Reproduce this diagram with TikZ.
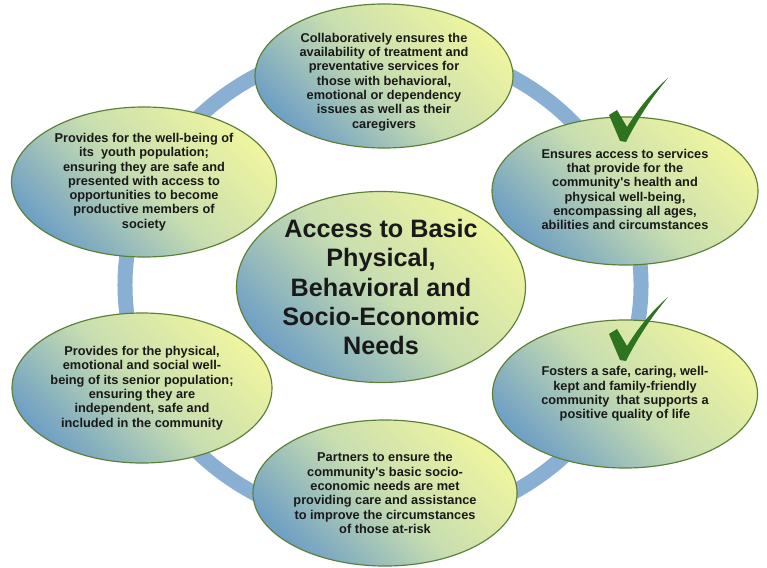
\documentclass[tikz,border=0pt]{standalone}
\usepackage{fontspec}
\setmainfont{Liberation Sans}
\usetikzlibrary{shapes.geometric}

\definecolor{ringblue}{RGB}{137,176,210}
\definecolor{bubbleblue}{RGB}{112,160,196}
\definecolor{bubblemid}{RGB}{200,222,176}
\definecolor{bubbleyellow}{RGB}{238,244,160}
\definecolor{bubbleedge}{RGB}{92,128,56}
\definecolor{tickgreen}{RGB}{46,116,32}

\begin{document}
\begin{tikzpicture}
  [x=0.03cm,y=-0.03cm,
   ring/.style={draw=ringblue,line width=0.45cm},
   bubble/.style={draw=bubbleedge,line width=1pt,ellipse,inner sep=0pt,left color=bubbleblue,right color=bubbleyellow,middle color=bubblemid,shading angle=135},
   bubbletext/.style={align=center,inner sep=0pt,text=black!90,font=\bfseries\fontsize{10.9}{12.2}\selectfont},
   titletext/.style={align=center,inner sep=0pt,text=black!90,font=\bfseries\fontsize{21.5}{25}\selectfont}]
  \path [use as bounding box] (0,0) rectangle (767,567);
  % the ring behind everything
  \draw [ring] (383,285) ellipse [x radius=7.74cm,y radius=7.2cm];
  % bubbles
  \node (care) at (384,76) [bubble,minimum width=7.74cm,minimum height=4.32cm] {};
  \node (health) at (625,191) [bubble,minimum width=7.98cm,minimum height=4.44cm] {};
  \node (safe) at (625,394) [bubble,minimum width=7.95cm,minimum height=4.44cm] {};
  \node (socio) at (385,493) [bubble,minimum width=7.92cm,minimum height=4.38cm] {};
  \node (senior) at (142,388) [bubble,minimum width=7.8cm,minimum height=4.5cm] {};
  \node (youth) at (144,182) [bubble,minimum width=7.95cm,minimum height=4.5cm] {};
  \node (needs) at (381,287) [bubble,minimum width=8.67cm,minimum height=5.73cm] {};
  % texts
  \node (caretext) at (care) [bubbletext,yshift=-0.18cm] {Collaboratively ensures the\\availability of treatment and\\preventative services for\\those with behavioral,\\emotional or dependency\\issues as well as their\\caregivers};
  \node (healthtext) at (health) [bubbletext,yshift=0.05cm] {Ensures access to services\\that provide for the\\community\textquotesingle s health and\\physical well-being,\\encompassing all ages,\\abilities and circumstances};
  \node (safetext) at (safe) [bubbletext] {Fosters a safe, caring, well-\\kept and family-friendly\\community~ that supports a\\positive quality of life};
  \node (sociotext) at (socio) [bubbletext] {Partners to ensure the\\community\textquotesingle s basic socio-\\economic needs are met\\providing care and assistance\\to improve the circumstances\\of those at-risk};
  \node (seniortext) at (senior) [bubbletext] {Provides for the physical,\\emotional and social well-\\being of its senior population;\\ensuring they are\\independent, safe and\\included in the community};
  \node (youthtext) at (youth) [bubbletext] {Provides for the well-being of\\its~ youth population;\\ensuring they are safe and\\presented with access to\\opportunities to become\\productive members of\\society};
  \node (needstext) at (needs) [titletext] {Access to Basic\\Physical,\\Behavioral and\\Socio-Economic\\Needs};
  % check marks
  \foreach \dy in {0,219}
  {
    \begin{scope}[shift={(0,\dy)}]
      \fill [tickgreen] (609,115) -- (617,110) -- (627,127)
        .. controls (640,106) and (654,90) .. (668,78)
        .. controls (652,97) and (637,120) .. (626,142) -- (620,141) -- cycle;
    \end{scope}
  }
\end{tikzpicture}
\end{document}
